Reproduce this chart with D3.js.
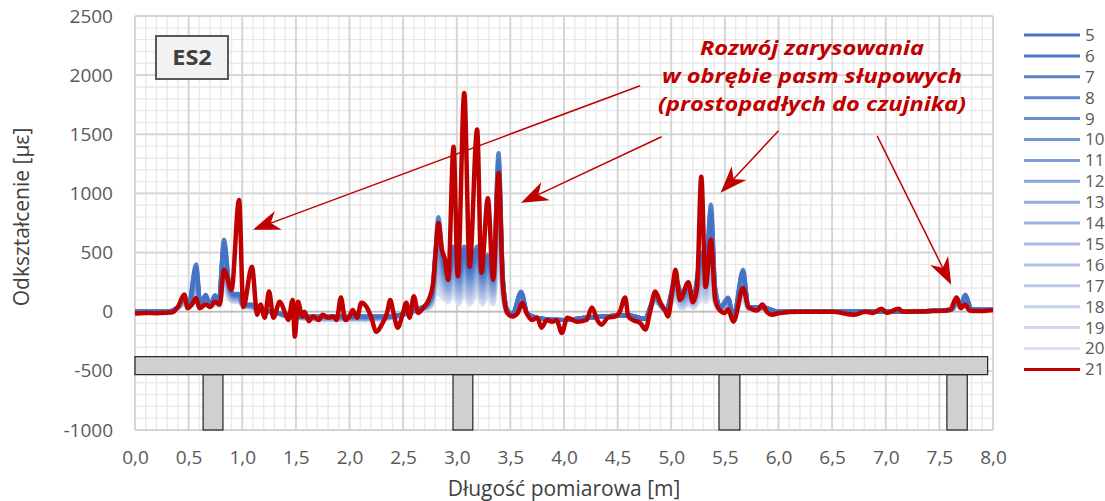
<!DOCTYPE html>
<html lang="pl">
<head>
<meta charset="UTF-8">
<title>ES2</title>
<script src="https://cdn.jsdelivr.net/npm/d3@7"></script>
<style>
  body { margin: 0; background: #fff; }
  svg text { font-family: "Open Sans", sans-serif; }
</style>
</head>
<body>
<div id="chart"></div>
<script>
const posRed = [0,0.1,0.2,0.3,0.35,0.4,0.46,0.49,0.53,0.57,0.6,0.66,0.7,0.745,0.79,0.83,0.9,0.97,1.01,1.09,
  1.14,1.17,1.21,1.25,1.29,1.35,1.4,1.43,1.47,1.49,1.52,1.56,1.58,1.62,1.66,1.71,1.75,1.8,1.85,1.88,
  1.92,1.96,2.0,2.03,2.07,2.11,2.16,2.2,2.25,2.3,2.35,2.38,2.41,2.45,2.49,2.53,2.56,2.6,2.64,2.69,
  2.73,2.78,2.8,2.83,2.86,2.89,2.92,2.97,3.01,3.07,3.12,3.19,3.23,3.29,3.34,3.39,3.43,3.47,3.52,3.57,
  3.61,3.65,3.7,3.75,3.79,3.84,3.89,3.93,3.98,4.03,4.12,4.21,4.26,4.31,4.35,4.41,4.48,4.52,4.57,4.6,
  4.64,4.71,4.76,4.8,4.85,4.9,4.94,4.97,5.01,5.04,5.08,5.16,5.2,5.24,5.28,5.32,5.37,5.41,5.45,5.5,
  5.53,5.58,5.67,5.72,5.8,5.85,5.89,5.94,6.01,6.2,6.5,6.71,6.81,6.88,6.96,7.01,7.12,7.16,7.44,7.6,
  7.66,7.7,7.74,7.78,7.85,8.0];
const s21 = [-15,-10,-12,-8,-5,40,145,30,60,115,30,60,40,85,60,355,185,945,40,380,
  -25,60,-50,170,-50,85,-10,-70,100,-210,85,-40,0,-80,-40,-70,-25,-50,-40,-70,
  120,-70,-40,15,-50,75,40,-40,-170,-110,-10,100,-10,-135,-40,75,-50,130,-10,35,
  85,245,465,750,530,440,270,1395,300,1850,380,1540,330,960,270,1175,230,-10,-40,-10,
  75,-10,-70,-50,-135,-70,-85,-70,-180,-50,-85,-70,35,-70,-110,-50,-40,0,120,-40,
  -70,-95,-150,-10,170,75,15,-40,185,355,100,250,80,200,1140,210,610,100,15,-10,
  20,-85,200,40,10,60,0,-25,-10,0,0,-25,0,-10,25,-10,25,0,5,15,
  120,30,60,10,5,15];

const posBlue = [0,0.3,0.4,0.46,0.5,0.57,0.61,0.66,0.7,0.745,
  0.78,0.83,0.88,0.92,0.97,1.01,1.09,1.15,1.3,1.45,
  1.6,1.75,1.9,2.05,2.2,2.35,2.5,2.62,2.72,2.77,
  2.8,2.83,2.86,2.92,2.97,3.02,3.07,3.12,3.19,3.24,
  3.29,3.34,3.39,3.43,3.47,3.52,3.6,3.66,3.8,4.0,
  4.2,4.4,4.6,4.75,4.85,4.95,5.04,5.1,5.16,5.21,
  5.28,5.32,5.37,5.41,5.46,5.53,5.58,5.67,5.72,5.85,
  6.0,6.5,7.0,7.5,7.62,7.66,7.7,7.74,7.8,8.0];
const s5 = [0,0,40,120,60,400,60,145,50,140, 80,610,220,150,150,60,60,10,0,-40, -40,-40,-40,-40,-40,-40,-20,20,60,150,
  500,800,550,320,550,330,550,350,550,330, 480,300,1340,300,20,-20,170,-20,-60,-70, -50,-40,-30,-60,120,10,280,150,200,150,
  500,350,905,200,40,120,-40,355,40,40, 0,0,0,10,20,120,60,145,20,15];
const s6 = [0,0,39,116,59,380,59,139,49,135, 78,583,212,145,145,59,58,10,-1,-41, -41,-42,-42,-42,-42,-41,-21,19,57,143,
  477,757,522,304,523,312,523,331,523,312, 457,284,1277,287,18,-20,163,-20,-60,-70, -50,-40,-30,-60,117,10,268,141,191,142,
  473,332,855,191,38,114,-40,338,39,39, 0,0,0,10,20,115,58,139,20,15];
const s7 = [0,0,39,112,57,360,57,134,49,129, 76,555,204,141,141,57,56,10,-1,-41, -43,-44,-44,-44,-44,-43,-21,17,55,137,
  453,713,494,288,497,294,497,311,497,294, 433,268,1215,273,16,-20,155,-20,-60,-70, -50,-40,-30,-60,115,10,256,133,181,134,
  447,314,804,181,36,108,-40,321,37,37, 0,0,0,10,20,111,56,132,20,15];
const s8 = [0,0,38,108,56,340,56,128,48,124, 74,528,196,136,136,56,54,10,-2,-42, -44,-46,-46,-46,-46,-44,-22,16,52,130,
  430,670,466,272,470,276,470,292,470,276, 410,252,1152,260,14,-20,148,-20,-60,-70, -50,-40,-30,-60,112,10,244,124,172,126,
  420,296,754,172,34,102,-40,304,36,36, 0,0,0,10,20,106,54,126,20,15];
const s9 = [0,0,37,104,55,320,55,122,47,119, 72,501,188,131,131,55,52,10,-3,-43, -45,-48,-48,-48,-48,-45,-23,15,49,123,
  407,627,438,256,443,258,443,273,443,258, 387,236,1089,247,12,-20,141,-20,-60,-70, -50,-40,-30,-60,109,10,232,115,163,118,
  393,278,704,163,32,96,-40,287,35,35, 0,0,0,10,20,101,52,120,20,15];
const s10 = [0,0,37,100,53,300,53,117,47,113, 70,473,180,127,127,53,50,10,-3,-43, -47,-50,-50,-50,-50,-47,-23,13,47,117,
  383,583,410,240,417,240,417,253,417,240, 363,220,1027,233,10,-20,133,-20,-60,-70, -50,-40,-30,-60,107,10,220,107,153,110,
  367,260,653,153,30,90,-40,270,33,33, 0,0,0,10,20,97,50,113,20,15];
const s11 = [0,0,36,96,52,280,52,111,46,108, 68,446,172,122,122,52,48,10,-4,-44, -48,-52,-52,-52,-52,-48,-24,12,44,110,
  360,540,382,224,390,222,390,234,390,222, 340,204,964,220,8,-20,126,-20,-60,-70, -50,-40,-30,-60,104,10,208,98,144,102,
  340,242,603,144,28,84,-40,253,32,32, 0,0,0,10,20,92,48,107,20,15];
const s12 = [0,0,35,92,51,260,51,105,45,103, 66,419,164,117,117,51,46,10,-5,-45, -49,-54,-54,-54,-54,-49,-25,11,41,103,
  337,497,354,208,363,204,363,215,363,204, 317,188,901,207,6,-20,119,-20,-60,-70, -50,-40,-30,-60,101,10,196,89,135,94,
  313,224,553,135,26,78,-40,236,31,31, 0,0,0,10,20,87,46,101,20,15];
const s13 = [0,0,35,88,49,240,49,100,45,97, 64,391,156,113,113,49,44,10,-5,-45, -51,-56,-56,-56,-56,-51,-25,9,39,97,
  313,453,326,192,337,186,337,195,337,186, 293,172,839,193,4,-20,111,-20,-60,-70, -50,-40,-30,-60,99,10,184,81,125,86,
  287,206,502,125,24,72,-40,219,29,29, 0,0,0,10,20,83,44,94,20,15];
const s14 = [0,0,34,84,48,220,48,94,44,92, 62,364,148,108,108,48,42,10,-6,-46, -52,-58,-58,-58,-58,-52,-26,8,36,90,
  290,410,298,176,310,168,310,176,310,168, 270,156,776,180,2,-20,104,-20,-60,-70, -50,-40,-30,-60,96,10,172,72,116,78,
  260,188,452,116,22,66,-40,202,28,28, 0,0,0,10,20,78,42,88,20,15];
const s15 = [0,0,33,80,47,200,47,88,43,87, 60,337,140,103,103,47,40,10,-7,-47, -53,-60,-60,-60,-60,-53,-27,7,33,83,
  267,367,270,160,283,150,283,157,283,150, 247,140,713,167,0,-20,97,-20,-60,-70, -50,-40,-30,-60,93,10,160,63,107,70,
  233,170,402,107,20,60,-40,185,27,27, 0,0,0,10,20,73,40,82,20,15];
const s16 = [0,0,33,76,45,180,45,83,43,81, 58,309,132,99,99,45,38,10,-7,-47, -55,-62,-62,-62,-62,-55,-27,5,31,77,
  243,323,242,144,257,132,257,137,257,132, 223,124,651,153,-2,-20,89,-20,-60,-70, -50,-40,-30,-60,91,10,148,55,97,62,
  207,152,351,97,18,54,-40,168,25,25, 0,0,0,10,20,69,38,75,20,15];
const s17 = [0,0,32,72,44,160,44,77,42,76, 56,282,124,94,94,44,36,10,-8,-48, -56,-64,-64,-64,-64,-56,-28,4,28,70,
  220,280,214,128,230,114,230,118,230,114, 200,108,588,140,-4,-20,82,-20,-60,-70, -50,-40,-30,-60,88,10,136,46,88,54,
  180,134,301,88,16,48,-40,151,24,24, 0,0,0,10,20,64,36,69,20,15];
const s18 = [0,0,31,68,43,140,43,71,41,71, 54,255,116,89,89,43,34,10,-9,-49, -57,-66,-66,-66,-66,-57,-29,3,25,63,
  197,237,186,112,203,96,203,99,203,96, 177,92,525,127,-6,-20,75,-20,-60,-70, -50,-40,-30,-60,85,10,124,37,79,46,
  153,116,251,79,14,42,-40,134,23,23, 0,0,0,10,20,59,34,63,20,15];
const s19 = [0,0,31,64,41,120,41,66,41,65, 52,227,108,85,85,41,32,10,-9,-49, -59,-68,-68,-68,-68,-59,-29,1,23,57,
  173,193,158,96,177,78,177,79,177,78, 153,76,463,113,-8,-20,67,-20,-60,-70, -50,-40,-30,-60,83,10,112,29,69,38,
  127,98,200,69,12,36,-40,117,21,21, 0,0,0,10,20,55,32,56,20,15];
const s20 = [0,0,30,60,40,100,40,60,40,60, 50,200,100,80,80,40,30,10,-10,-50, -60,-70,-70,-70,-70,-60,-30,0,20,50,
  150,150,130,80,150,60,150,60,150,60, 130,60,400,100,-10,-20,60,-20,-60,-70, -50,-40,-30,-60,80,10,100,20,60,30,
  100,80,150,60,10,30,-40,100,20,20, 0,0,0,10,20,50,30,50,20,15];

const seriesNames = ["5","6","7","8","9","10","11","12","13","14","15","16","17","18","19","20","21"];
const blueSeries = [s5,s6,s7,s8,s9,s10,s11,s12,s13,s14,s15,s16,s17,s18,s19,s20];

const xTicks = [0,0.5,1,1.5,2,2.5,3,3.5,4,4.5,5,5.5,6,6.5,7,7.5,8];
const yTicks = [-1000,-500,0,500,1000,1500,2000,2500];

// beam and columns sketch [m, µε]
const beam = {x0: 0, x1: 7.95, y0: -380, y1: -532};
const columns = [[0.635,0.82],[2.965,3.15],[5.445,5.64],[7.57,7.76]];

// arrows: [from, tip] in data units
const arrows = [
  [[4.71,1910],[1.10,693]],
  [[4.91,1479],[3.60,921]],
  [[6.00,1530],[5.46,1005]],
  [[6.92,1487],[7.61,228]]
];
const noteLines = ["Rozwój zarysowania","w obrębie pasm słupowych","(prostopadłych do czujnika)"];

const W = 1105, H = 501;
const svg = d3.select("#chart").append("svg").attr("width", W).attr("height", H);

const x = d3.scaleLinear().domain([0, 8]).range([135, 993]);
const y = d3.scaleLinear().domain([-1000, 2500]).range([430, 16]);

// grid
const grid = svg.append("g");
grid.selectAll("line.mx").data(d3.range(0, 81).map(i => i / 10)).enter().append("line")
  .attr("x1", d => x(d)).attr("x2", d => x(d)).attr("y1", y(-1000)).attr("y2", y(2500))
  .attr("stroke", "#e9e9e9").attr("stroke-width", 1.4);
grid.selectAll("line.my").data(d3.range(-10, 26).map(i => i * 100)).enter().append("line")
  .attr("y1", d => y(d)).attr("y2", d => y(d)).attr("x1", x(0)).attr("x2", x(8))
  .attr("stroke", "#e9e9e9").attr("stroke-width", 1.4);
grid.selectAll("line.Mx").data(xTicks).enter().append("line")
  .attr("x1", d => x(d)).attr("x2", d => x(d)).attr("y1", y(-1000)).attr("y2", y(2500))
  .attr("stroke", "#d4d4d4").attr("stroke-width", 1.8);
grid.selectAll("line.My").data(yTicks).enter().append("line")
  .attr("y1", d => y(d)).attr("y2", d => y(d)).attr("x1", x(0)).attr("x2", x(8))
  .attr("stroke", d => d === 0 ? "#bcbcbc" : "#d4d4d4").attr("stroke-width", 1.8);

// structure sketch
const sk = svg.append("g");
sk.selectAll("rect.col").data(columns).enter().append("rect")
  .attr("x", d => x(d[0])).attr("width", d => x(d[1]) - x(d[0]))
  .attr("y", y(beam.y1)).attr("height", y(-1000) - y(beam.y1))
  .attr("fill", "#d0d0d0").attr("stroke", "#222").attr("stroke-width", 1.2);
sk.append("rect")
  .attr("x", x(beam.x0)).attr("width", x(beam.x1) - x(beam.x0))
  .attr("y", y(beam.y0)).attr("height", y(beam.y1) - y(beam.y0))
  .attr("fill", "#d0d0d0").attr("stroke", "#222").attr("stroke-width", 1.2);

// lines
const blueColor = d3.interpolateRgb("#4472c4", "#d9dff1");
const line = d3.line().x(d => x(d[0])).y(d => y(d[1])).curve(d3.curveMonotoneX);
const plot = svg.append("g");
for (let k = blueSeries.length - 1; k >= 0; k--) {
  const pts = posBlue.map((p, i) => [p, blueSeries[k][i]]);
  plot.append("path").attr("d", line(pts)).attr("fill", "none")
    .attr("stroke", blueColor(k / 15)).attr("stroke-width", 4.2)
    .attr("stroke-linejoin", "round").attr("stroke-opacity", 0.9);
}
plot.append("path").attr("d", line(posRed.map((p, i) => [p, s21[i]])))
  .attr("fill", "none").attr("stroke", "#c00000").attr("stroke-width", 4.5)
  .attr("stroke-linejoin", "round");

// arrows
function arrowHead(from, tip) {
  const a = Math.atan2(tip[1] - from[1], tip[0] - from[0]);
  const pts = [[0,0],[-27,-10],[-19,0],[-27,10]].map(([u, v]) =>
    [tip[0] + u * Math.cos(a) - v * Math.sin(a), tip[1] + u * Math.sin(a) + v * Math.cos(a)]);
  return "M" + pts.join("L") + "Z";
}
const ann = svg.append("g");
arrows.forEach(([f, t]) => {
  const p0 = [x(f[0]), y(f[1])], p1 = [x(t[0]), y(t[1])];
  const a = Math.atan2(p1[1] - p0[1], p1[0] - p0[0]);
  ann.append("line").attr("x1", p0[0]).attr("y1", p0[1])
    .attr("x2", p1[0] - 19 * Math.cos(a)).attr("y2", p1[1] - 19 * Math.sin(a))
    .attr("stroke", "#c00000").attr("stroke-width", 1.5);
  ann.append("path").attr("d", arrowHead(p0, p1)).attr("fill", "#c00000");
});
// the source text is drawn a bit wide, so stretch it horizontally
ann.selectAll("text.note").data(noteLines).enter().append("text")
  .attr("transform", (d, i) => `translate(812,${55 + i * 28}) scale(1.18,1)`)
  .attr("text-anchor", "middle").attr("font-size", 20).attr("font-weight", "bold")
  .attr("font-style", "italic").attr("fill", "#c00000").text(d => d);

// ES2 label box
ann.append("rect").attr("x", 156).attr("y", 36).attr("width", 72).attr("height", 43)
  .attr("fill", "#f2f2f2").attr("stroke", "#595959").attr("stroke-width", 2);
ann.append("text").attr("transform", "translate(192,65) scale(1.12,1)").attr("text-anchor", "middle")
  .attr("font-size", 21).attr("font-weight", "bold").attr("fill", "#404040").text("ES2");

// axes
const fmt = d3.formatLocale({decimal: ",", thousands: "", grouping: [3], currency: ["", ""]}).format(".1f");
const xAxis = svg.append("g").attr("transform", `translate(0,${y(-1000)})`)
  .call(d3.axisBottom(x).tickValues(xTicks).tickFormat(fmt).tickSize(0).tickPadding(21));
const yAxis = svg.append("g").attr("transform", `translate(${x(0)},0)`)
  .call(d3.axisLeft(y).tickValues(yTicks).tickFormat(d => d).tickSize(0).tickPadding(22));
[xAxis, yAxis].forEach(g => {
  g.select(".domain").remove();
  g.selectAll("text").attr("font-size", 19).attr("fill", "#595959")
    .attr("font-family", "'Open Sans', sans-serif");
});

svg.append("text").attr("x", 564).attr("y", 496).attr("text-anchor", "middle")
  .attr("font-size", 21).attr("fill", "#404040").text("Długość pomiarowa [m]");
svg.append("text").attr("transform", "translate(29,217) rotate(-90)").attr("text-anchor", "middle")
  .attr("font-size", 21).attr("fill", "#404040").text("Odkształcenie [µε]");

// legend
const leg = svg.append("g");
const legItems = leg.selectAll("g").data(seriesNames).enter().append("g")
  .attr("transform", (d, i) => `translate(1024,${35 + i * 20.9})`);
legItems.append("line").attr("x1", 0).attr("x2", 56)
  .attr("stroke", (d, i) => i === 16 ? "#c00000" : blueColor(i / 15)).attr("stroke-width", 3);
legItems.append("text").attr("x", 61).attr("dy", "0.35em").attr("font-size", 17)
  .attr("fill", "#595959").text(d => d);
</script>
</body>
</html>
